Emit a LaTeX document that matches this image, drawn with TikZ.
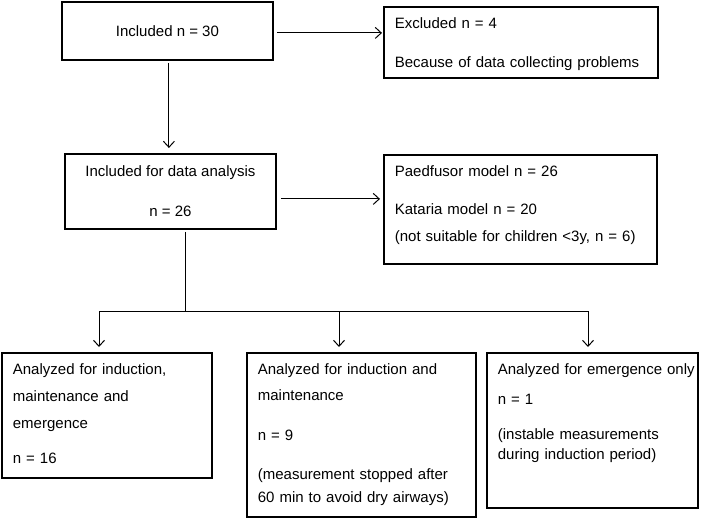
\documentclass[tikz,border=0pt]{standalone}
\usepackage{fontspec}
\setmainfont{Liberation Sans}
\usetikzlibrary{arrows.meta}

\begin{document}
\begin{tikzpicture}[x=1pt, y=-1pt,
  every node/.style={font=\fontsize{15}{18.4}\selectfont},
  main node/.style={draw, line width=1.8pt, inner sep=0pt, anchor=north west, align=center},
  list node/.style={draw, line width=1.8pt, inner xsep=11pt, inner ysep=0pt, anchor=north west, align=left, text height=22pt},
  line/.style={line width=1pt},
  arr/.style={line width=1pt, -{Straight Barb[length=6pt,width=11pt]}}]

\useasboundingbox (0,0) rectangle (710,519);

\node[main node, minimum width=211pt, minimum height=58pt] (incl) at (61,1) {Included n = 30};
\node[list node, text width=252pt, text depth=49pt] (excl) at (383,6)
  {Excluded n = 4\\[20.6pt]Because of data collecting problems};
\node[main node, minimum width=211pt, minimum height=75pt] (anal) at (64,153)
  {Included for data analysis\\[21.6pt]n = 26};
\node[list node, text width=251pt, text depth=87pt] (pm) at (383,154)
  {Paedfusor model n = 26\\[19.6pt]Kataria model n = 20\\[8.6pt](not suitable for children <3y, n = 6)};
\node[list node, text width=188pt, text depth=103pt] (ind) at (1,352)
  {Analyzed for induction,\\[8.6pt]maintenance and\\[8.6pt]emergence\\[16.6pt]n = 16};
\node[list node, text width=207pt, text depth=142pt] (maint) at (246,352)
  {Analyzed for induction and\\[7.6pt]maintenance\\[21.6pt]n = 9\\[20.6pt](measurement stopped after\\[4.6pt]60 min to avoid dry airways)};
\node[list node, text width=189pt, text depth=133pt] (emer) at (486,352)
  {\makebox[0pt][l]{Analyzed for emergence only}\\[11.6pt]n = 1\\[16.6pt](instable measurements\\[1.6pt]during induction period)};

\coordinate (split) at (185,311);
\coordinate (b1) at (99,311);
\coordinate (b2) at (339,311);
\coordinate (b3) at (588,311);

\draw[arr, shorten <=3pt, shorten >=1pt] ([yshift=-2pt]incl.east) -- ([yshift=-2pt]incl.east -| excl.west);
\draw[arr, shorten <=2pt, shorten >=5pt] ([xshift=1.5pt]incl.south) -- ([xshift=1.5pt]incl.south |- anal.north);
\draw[arr, shorten <=4pt, shorten >=3pt] ([yshift=-7.5pt]anal.east) -- ([yshift=-7.5pt]anal.east -| pm.west);
\draw[line, shorten <=2pt] (split |- anal.south) -- (split);
\draw[line] (b1) -- (b3);
\foreach \b/\n in {b1/ind, b2/maint, b3/emer}
  \draw[arr, shorten >=5pt] (\b) -- (\b |- \n.north);

\end{tikzpicture}
\end{document}
